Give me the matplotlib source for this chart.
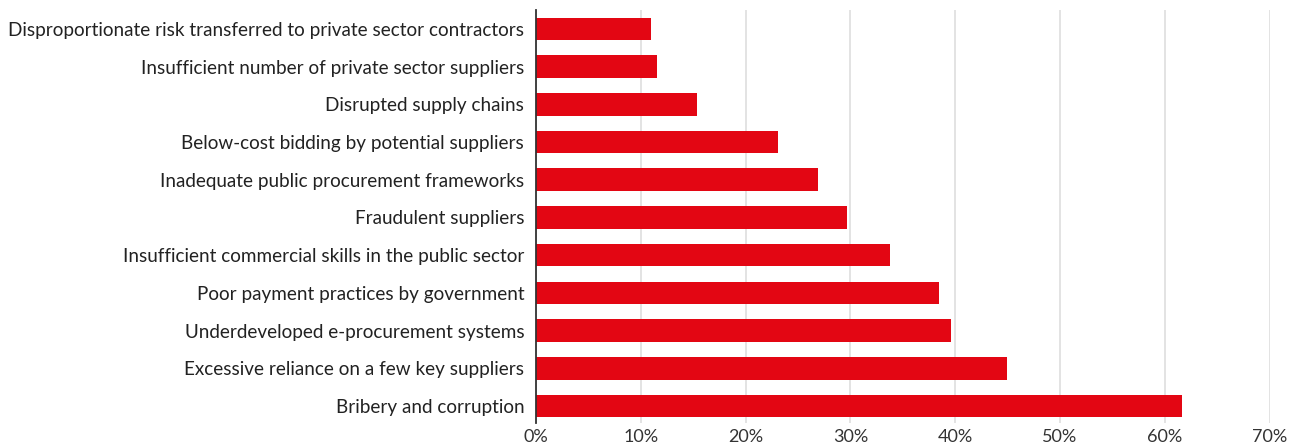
import matplotlib.pyplot as plt
from matplotlib.ticker import FuncFormatter

plt.rcParams['font.family'] = ['Lato', 'DejaVu Sans']

risks = [
    "Disproportionate risk transferred to private sector contractors",
    "Insufficient number of private sector suppliers",
    "Disrupted supply chains",
    "Below-cost bidding by potential suppliers",
    "Inadequate public procurement frameworks",
    "Fraudulent suppliers",
    "Insufficient commercial skills in the public sector",
    "Poor payment practices by government",
    "Underdeveloped e-procurement systems",
    "Excessive reliance on a few key suppliers",
    "Bribery and corruption",
]
share = [11.0, 11.5, 15.4, 23.1, 26.9, 29.7, 33.8, 38.5, 39.6, 44.9, 61.6]
xticks = [0, 10, 20, 30, 40, 50, 60, 70]

fig = plt.figure(figsize=(12.98, 4.46), dpi=100)
ax = fig.add_axes([536 / 1298, 1 - 423 / 446, 733.6 / 1298, 413 / 446])

pos = range(len(risks))
ax.barh(pos, share, height=0.6, color="#e30613", zorder=3)

ax.set_yticks(list(pos))
ax.set_yticklabels(risks, fontsize=13.6, color="#222222")
ax.set_ylim(10.45, -0.5)

ax.set_xlim(0, 70)
ax.set_xticks(xticks)
ax.xaxis.set_major_formatter(FuncFormatter(lambda v, _: f"{v:.0f}%"))
ax.tick_params(axis="x", labelsize=13, labelcolor="#333333", length=0, pad=4)
ax.tick_params(axis="y", length=0, pad=8.5)
ax.grid(axis="x", color="#e0e0e0", linewidth=1.3, zorder=0)

for side in ["top", "right", "bottom"]:
    ax.spines[side].set_visible(False)
ax.spines["left"].set_color("#333333")
ax.spines["left"].set_linewidth(1.3)
ax.spines["left"].set_zorder(4)

fig.savefig("out.png", dpi=100)
